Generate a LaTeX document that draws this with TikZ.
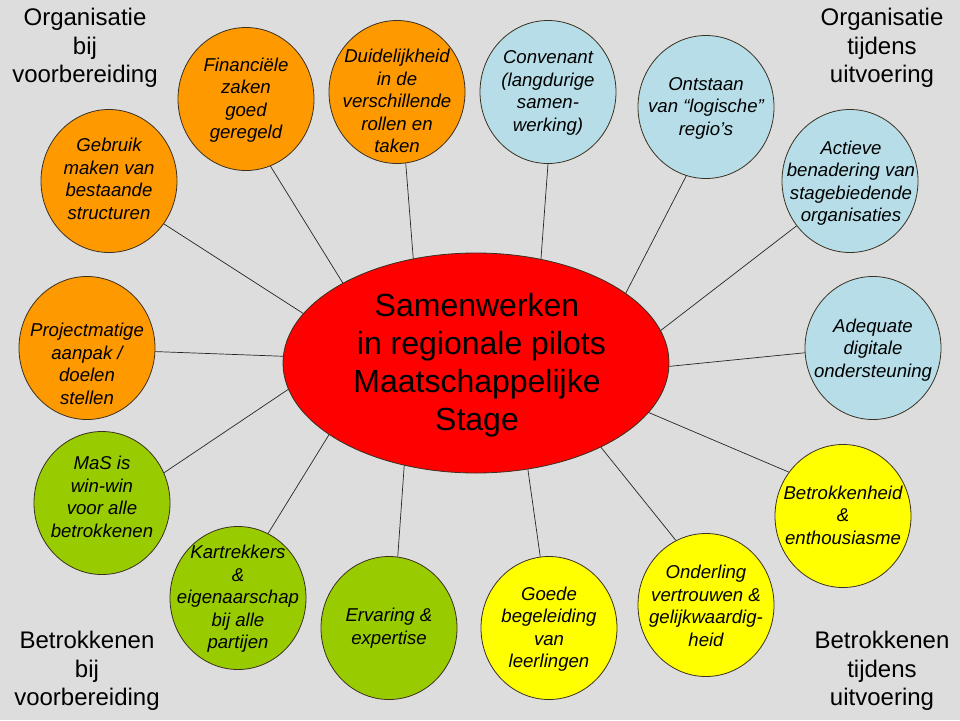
\documentclass[tikz,border=0pt]{standalone}
\usepackage{fontspec}
\setmainfont{Liberation Sans}
\usetikzlibrary{shapes.geometric}
\definecolor{bg}{HTML}{DDDDDD}
\definecolor{corange}{HTML}{FF9900}
\definecolor{cblue}{HTML}{B7DEE8}
\definecolor{cgreen}{HTML}{99CC00}
\definecolor{cyellow}{HTML}{FFFF00}
\definecolor{cred}{HTML}{FF0000}
\definecolor{edge}{HTML}{3A3020}
\tikzset{
  bubble/.style={ellipse, draw=edge, line width=0.8pt, minimum width=136pt, minimum height=143pt, inner sep=0pt},
  orangeb/.style={bubble, fill=corange},
  blueb/.style={bubble, fill=cblue},
  greenb/.style={bubble, fill=cgreen},
  yellowb/.style={bubble, fill=cyellow},
  btext/.style={align=center, inner sep=0pt, font=\fontsize{18.6}{22.5}\selectfont\itshape},
  corner/.style={align=center, inner sep=0pt, font=\fontsize{24}{28.5}\selectfont},
  spoke/.style={draw=black!85, line width=0.7pt},
}
\begin{document}
\begin{tikzpicture}[x=1pt,y=-1pt]
\fill[bg] (0,0) rectangle (960,720);
\useasboundingbox (0,0) rectangle (960,720);

% corner labels
\node[corner] (tl) at (85,48) {Organisatie\\bij\\voorbereiding};
\node[corner] (tr) at (882,48) {Organisatie\\tijdens\\uitvoering};
\node[corner] (bl) at (87,671) {Betrokkenen\\bij\\voorbereiding};
\node[corner] (br) at (882,671) {Betrokkenen\\tijdens\\uitvoering};

% centre
\node[ellipse, draw=edge, line width=0.8pt, fill=cred, minimum width=386pt, minimum height=220pt, inner sep=0pt] (e) at (476,363) {};
\node[align=center, inner sep=0pt, font=\fontsize{32}{38}\selectfont] (et) at (477,365)
  {Samenwerken\\\ in regionale pilots\\Maatschappelijke\\Stage};

% bubbles
\node[orangeb] (c1) at (246,99) {};
\node[orangeb] (c2) at (397,92) {};
\node[orangeb] (c3) at (109,181) {};
\node[blueb] (c4) at (548,92) {};
\node[blueb] (c5) at (706,107) {};
\node[blueb] (c6) at (850,181) {};
\node[orangeb] (c7) at (87,348) {};
\node[blueb] (c8) at (873,348) {};
\node[greenb] (c9) at (102,503) {};
\node[yellowb] (c10) at (843,516) {};
\node[greenb] (c11) at (238,598) {};
\node[greenb] (c12) at (389,628) {};
\node[yellowb] (c13) at (549,628) {};
\node[yellowb] (c14) at (706,605) {};

% texts
\node[btext] (t1) at (246,100) {Financiële\\zaken\\goed\\geregeld};
\node[btext] (t2) at (397,101) {Duidelijkheid\\in de\\verschillende\\rollen en\\taken};
\node[btext] (t3) at (109,179) {Gebruik\\maken van\\bestaande\\structuren};
\node[btext] (t4) at (548,93) {Convenant\\(langdurige\\samen-\\werking)};
\node[btext] (t5) at (706,108) {Ontstaan\\van “logische”\\regio’s};
\node[btext] (t6) at (851,183) {Actieve\\benadering van\\stagebiedende\\organisaties};
\node[btext] (t7) at (87,364) {Projectmatige\\aanpak /\\doelen\\stellen};
\node[btext] (t8) at (873,350) {Adequate\\digitale\\ondersteuning};
\node[btext] (t9) at (102,497) {MaS is\\win-win\\voor alle\\betrokkenen};
\node[btext] (t10) at (843,515) {Betrokkenheid\\\&\\enthousiasme};
\node[btext] (t11) at (238,599) {Kartrekkers\\\&\\eigenaarschap\\bij alle\\partijen};
\node[btext] (t12) at (389,628) {Ervaring \&\\expertise};
\node[btext] (t13) at (549,629) {Goede\\begeleiding\\van\\leerlingen};
\node[btext] (t14) at (706,606) {Onderling\\vertrouwen \&\\gelijkwaardig-\\heid};

% spokes
\draw[spoke] (c1.-70.6) -- (e.149);
\draw[spoke] (c2.-83.6) -- (e.121.6);
\draw[spoke] (c3.-38.2) -- (e.164.9);
\draw[spoke] (c4.-90) -- (e.58.6);
\draw[spoke] (c5.-106.5) -- (e.25.8);
\draw[spoke] (c6.-140.3) -- (e.10.1);
\draw[spoke] (c7.-3.4) -- (e.178.8);
\draw[spoke] (c8.184.2) -- (e.-1.2);
\draw[spoke] (c9.26.9) -- (e.188.8);
\draw[spoke] (c10.141.3) -- (e.-16);
\draw[spoke] (c11.65.2) -- (e.206.6);
\draw[spoke] (c12.83.6) -- (e.235.3);
\draw[spoke] (c13.97.1) -- (e.-64.5);
\draw[spoke] (c14.115.1) -- (e.-34.6);
\end{tikzpicture}
\end{document}
